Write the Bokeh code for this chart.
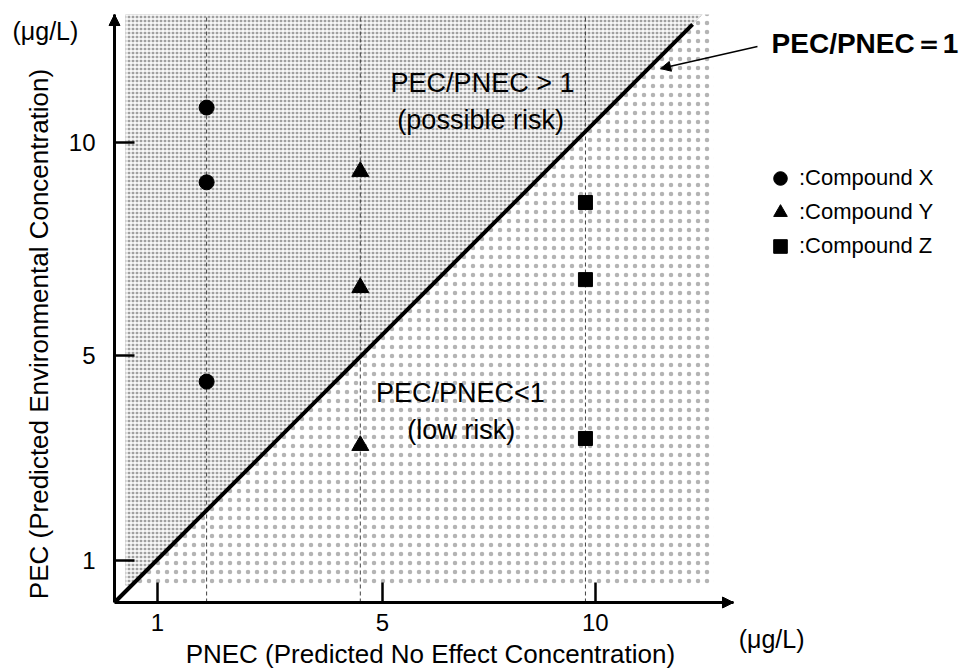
import numpy as np
from bokeh.plotting import figure
from bokeh.models import (Range1d, FixedTicker, LinearAxis, Label, Arrow, NormalHead,
                          Legend, LegendItem)
from bokeh.embed import file_html
from bokeh.resources import INLINE

# ---------------- data (axis units of the schematic) ----------------
x_tick_pos = [0.915, 5.70, 10.23]
x_tick_labels = ["1", "5", "10"]
y_tick_pos = [0.894, 5.255, 9.79]
y_tick_labels = ["1", "5", "10"]

compounds = ["Compound X", "Compound Y", "Compound Z"]
markers = ["circle", "triangle", "square"]
marker_sizes = [15, 17, 14]
pnec_values = [1.96, 5.23, 10.02]
pec_compound_x = [10.53, 8.94, 4.70]
pec_compound_y = [9.17, 6.70, 3.34]
pec_compound_z = [8.51, 6.87, 3.49]
pec_values = [pec_compound_x, pec_compound_y, pec_compound_z]
ratio_line = [0.0, 12.3]   # PEC/PNEC = 1

# ---------------- layout (axis units: 47 px per unit) ----------------
W, H = 971, 671
PX = 47.0
OX, OY = 114, 602                     # origin in page pixels
X_RANGE = (-OX / PX, (W - OX) / PX)
Y_RANGE = (-(H - OY) / PX, OY / PX)
X_AXIS_END = 13.17
Y_AXIS_END = 12.51
BOX_X0, BOX_X1, BOX_Y0 = 0.234, 12.74, 0.36

FONT = "Liberation Sans"

p = figure(width=W, height=H, x_range=Range1d(*X_RANGE), y_range=Range1d(*Y_RANGE),
           output_backend="svg", toolbar_location=None,
           x_axis_location=None, y_axis_location=None,
           min_border_left=0, min_border_right=0, min_border_top=0, min_border_bottom=0)
p.outline_line_color = None
p.grid.visible = False
p.background_fill_color = "white"
p.border_fill_color = "white"

# ---------------- shaded regions ----------------
p.patch([BOX_Y0, BOX_X1, BOX_X1, Y_AXIS_END], [BOX_Y0, BOX_Y0, Y_AXIS_END, Y_AXIS_END],
        fill_color="white", line_color=None,
        hatch_pattern="dot", hatch_color="#b4b4b4", hatch_scale=9, hatch_weight=0.8)
p.patch([BOX_X0, BOX_Y0, Y_AXIS_END, BOX_X0], [BOX_Y0, BOX_Y0, Y_AXIS_END, Y_AXIS_END],
        fill_color="#a0a0a0", line_color=None,
        hatch_pattern="cross", hatch_color="white", hatch_scale=4, hatch_weight=1.3)

# dashed verticals through each compound
p.segment(x0=pnec_values, y0=[0] * 3, x1=pnec_values, y1=[Y_AXIS_END] * 3,
          line_color="#404040", line_dash="4 3", line_width=1)

# PEC/PNEC = 1 line
p.line(ratio_line, ratio_line, line_color="black", line_width=4)

# compounds
renderers = []
for name, mk, sz, xv, ys in zip(compounds, markers, marker_sizes, pnec_values, pec_values):
    r = p.scatter([xv] * len(ys), ys, marker=mk, size=sz, fill_color="black",
                  line_color="black")
    renderers.append(r)

legend = Legend(items=[LegendItem(label=":" + n, renderers=[r]) for n, r in zip(compounds, renderers)],
                location=(763, H - 263), orientation="vertical",
                glyph_width=34, glyph_height=34, label_height=34, spacing=0,
                padding=0, margin=0, label_standoff=2,
                label_text_font=FONT, label_text_font_size="22px", label_text_color="black",
                background_fill_alpha=0, border_line_alpha=0)
p.add_layout(legend)

# ---------------- axes ----------------
xaxis = LinearAxis(fixed_location=0, bounds=(0, X_AXIS_END))
yaxis = LinearAxis(fixed_location=0, bounds=(0, Y_AXIS_END))
p.add_layout(xaxis, "below")
p.add_layout(yaxis, "left")
for ax, pos, labs, stand in ((xaxis, x_tick_pos, x_tick_labels, 11),
                             (yaxis, y_tick_pos, y_tick_labels, 19)):
    ax.ticker = FixedTicker(ticks=pos)
    ax.major_label_overrides = {t: l for t, l in zip(pos, labs)}
    ax.axis_line_width = 3
    ax.axis_line_color = "black"
    ax.major_tick_in = 20
    ax.major_tick_out = 0
    ax.major_tick_line_width = 2.5
    ax.major_tick_line_color = "black"
    ax.minor_tick_line_color = None
    ax.major_label_text_font = FONT
    ax.major_label_text_font_size = "24px"
    ax.major_label_text_color = "black"
    ax.major_label_standoff = stand

# axis arrow heads
p.add_layout(Arrow(end=NormalHead(size=11, fill_color="black", line_color="black"),
                   x_start=0, y_start=Y_AXIS_END - 0.4, x_end=0, y_end=Y_AXIS_END,
                   line_width=3, line_color="black"))
p.add_layout(Arrow(end=NormalHead(size=11, fill_color="black", line_color="black"),
                   x_start=X_AXIS_END - 0.4, y_start=0, x_end=X_AXIS_END, y_end=0,
                   line_width=3, line_color="black"))

# leader arrow to the PEC/PNEC=1 line
p.add_layout(Arrow(end=NormalHead(size=10, fill_color="black", line_color="black"),
                   x_start=13.68, y_start=11.83, x_end=11.62, y_end=11.36,
                   line_width=1.5, line_color="black"))


def lab(text, x, y, size, align="center", bold=False, angle=0.0):
    p.add_layout(Label(x=x, y=y, text=text, text_font=FONT, text_font_size=size,
                       text_align=align, text_baseline="middle", angle=angle,
                       text_font_style="bold" if bold else "normal", text_color="black"))


lab("PEC/PNEC > 1", 7.83, 11.05, "27px")
lab("(possible risk)", 7.79, 10.26, "27px")
lab("PEC/PNEC<1", 7.36, 4.45, "27px")
lab("(low risk)", 7.38, 3.68, "27px")
lab("PEC/PNEC\uff1d1", 13.98, 11.89, "28px", align="left", bold=True)
lab("(\u03bcg/L)", -1.47, 12.15, "25px")
lab("(\u03bcg/L)", 13.28, -0.787, "25px", align="left")
lab("PNEC (Predicted No Effect Concentration)", 6.72, -1.10, "26px")
lab("PEC (Predicted Environmental  Concentration)", -1.60, 5.79, "26px", angle=np.pi / 2)

open("out.html", "w").write(file_html(p, INLINE))
